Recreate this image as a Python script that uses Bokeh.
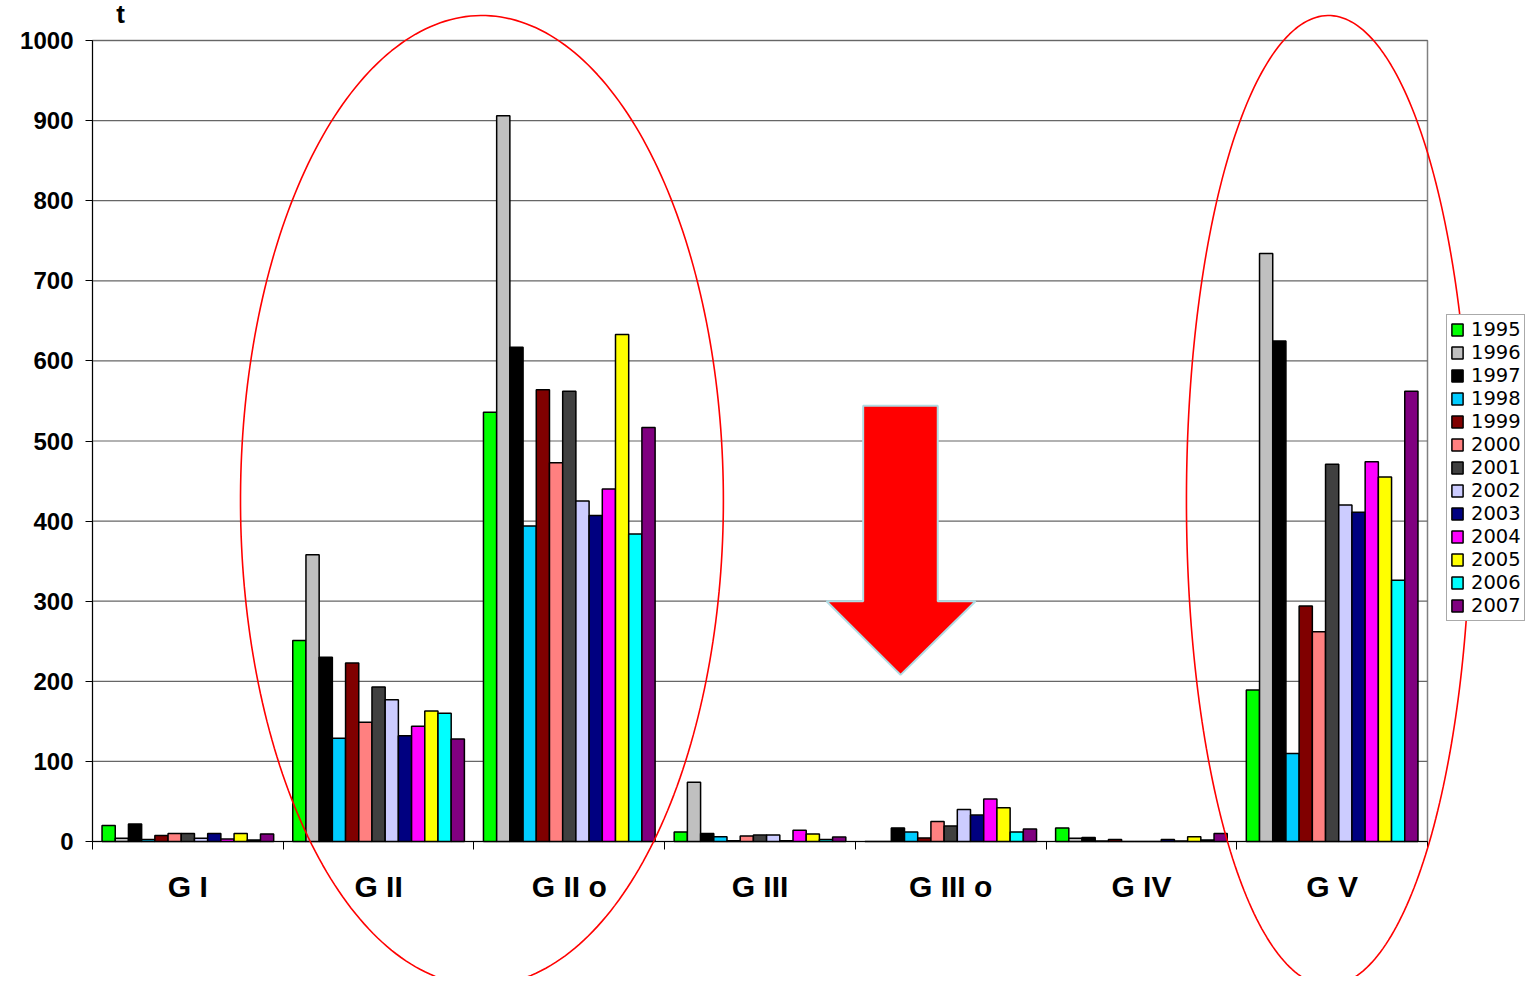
import numpy as np
from bokeh.plotting import figure
from bokeh.models import (ColumnDataSource, Range1d, FixedTicker, Legend,
                          LegendItem, Label, PolyAnnotation)
from bokeh.embed import file_html
from bokeh.resources import INLINE

categories = ["G I", "G II", "G II o", "G III", "G III o", "G IV", "G V"]
years = ["1995", "1996", "1997", "1998", "1999", "2000", "2001",
         "2002", "2003", "2004", "2005", "2006", "2007"]

v1995 = [20, 251, 536, 12, 0, 17, 189]
v1996 = [4, 358, 906, 74, 0, 4, 734]
v1997 = [22, 230, 617, 10, 17, 5, 625]
v1998 = [2.5, 129, 394, 6, 12, 0.5, 110]
v1999 = [7.5, 223, 564, 1, 4.5, 2.5, 294]
v2000 = [10, 149, 473, 7, 25, 0, 262]
v2001 = [10, 193, 562, 8, 19.5, 0, 471]
v2002 = [4, 177, 425, 8, 40, 0, 420]
v2003 = [10, 132, 407, 1, 33, 2.5, 411]
v2004 = [3, 144, 440, 14, 53, 0.5, 474]
v2005 = [10, 163, 633, 9.5, 42, 6, 455]
v2006 = [2, 160, 384, 2.5, 12, 2, 326]
v2007 = [9.5, 128, 517, 5.5, 15.5, 10, 562]

colors = ["#00FF00", "#C0C0C0", "#000000", "#00CCFF", "#800000", "#FF8080",
          "#404040", "#CCCCFF", "#000080", "#FF00FF", "#FFFF00", "#00FFFF",
          "#800080"]

series = [v1995, v1996, v1997, v1998, v1999, v2000, v2001,
          v2002, v2003, v2004, v2005, v2006, v2007]

y_ticks = [0, 100, 200, 300, 400, 500, 600, 700, 800, 900, 1000]
Y_MAX = 1000

FONT = "Liberation Sans"

# canvas / plot-area geometry (pixels)
W, H = 1532, 976
AREA_L, AREA_R, AREA_T, AREA_B = 92, 1427, 40, 841
ncat = len(categories)
px_per_cat = (AREA_R - AREA_L) / ncat
px_per_val = (AREA_B - AREA_T) / Y_MAX

x_range = Range1d(-AREA_L / px_per_cat, (W - AREA_L) / px_per_cat)
y_range = Range1d(-(H - AREA_B) / px_per_val, AREA_B / px_per_val)

p = figure(frame_width=W, frame_height=H, x_range=x_range, y_range=y_range,
           output_backend="svg", toolbar_location=None,
           min_border=0)
p.background_fill_color = "white"
p.border_fill_color = "white"
p.outline_line_color = None
p.xgrid.visible = False
p.ygrid.visible = False

# plot area border and horizontal gridlines
p.quad(left=0, right=ncat, bottom=0, top=Y_MAX, fill_color=None,
       line_color="#808080", line_width=1.5)
grid_src = ColumnDataSource(dict(y=y_ticks[1:]))
p.segment(x0=0, x1=ncat, y0="y", y1="y", source=grid_src,
          line_color="#666666", line_width=1.2)

n = len(years)
group = 0.9
bw = group / n
idx = np.arange(ncat)
items = []
for j, (yr, vals, col) in enumerate(zip(years, series, colors)):
    src = ColumnDataSource(dict(x=idx + (1 - group) / 2 + (j + 0.5) * bw,
                                top=vals))
    r = p.vbar(x="x", top="top", bottom=0, width=bw, source=src,
               fill_color=col, line_color="black", line_width=1.5)
    items.append(LegendItem(label=yr, renderers=[r]))

# y axis (drawn at x = 0 inside the canvas)
p.yaxis.fixed_location = 0
p.yaxis.bounds = (0, Y_MAX)
p.yaxis.ticker = FixedTicker(ticks=y_ticks)
p.yaxis.major_tick_out = 7
p.yaxis.major_tick_in = 0
p.yaxis.minor_tick_line_color = None
p.yaxis.axis_line_color = "black"
p.yaxis.major_tick_line_color = "black"
p.yaxis.major_label_text_font = FONT
p.yaxis.major_label_text_font_style = "bold"
p.yaxis.major_label_text_font_size = "24px"
p.yaxis.major_label_text_color = "black"
p.yaxis.major_label_standoff = 12

# x axis (drawn at y = 0)
centers = [i + 0.5 for i in range(ncat)]
p.xaxis.fixed_location = 0
p.xaxis.bounds = (0, ncat)
p.xaxis.ticker = FixedTicker(ticks=centers, minor_ticks=list(range(ncat + 1)))
p.xaxis.major_label_overrides = {c: lab for c, lab in zip(centers, categories)}
p.xaxis.major_tick_line_color = None
p.xaxis.major_tick_out = 8
p.xaxis.major_tick_in = 0
p.xaxis.minor_tick_out = 8
p.xaxis.minor_tick_in = 0
p.xaxis.minor_tick_line_color = "black"
p.xaxis.axis_line_color = "black"
p.xaxis.major_label_text_font = FONT
p.xaxis.major_label_text_font_style = "bold"
p.xaxis.major_label_text_font_size = "30px"
p.xaxis.major_label_text_color = "black"
p.xaxis.major_label_standoff = 20

# unit label
p.add_layout(Label(x=0.147, y=1033, text="t", text_font=FONT,
                   text_font_style="bold", text_font_size="26px",
                   text_color="black",
                   text_align="center", text_baseline="middle"))

# red down arrow
arrow_x = [4.041, 4.432, 4.432, 4.630, 4.237, 3.849, 4.041]
arrow_y = [544, 544, 300, 300, 208, 300, 300]
p.add_layout(PolyAnnotation(xs=arrow_x, ys=arrow_y, fill_color="red",
                            fill_alpha=1.0, line_color="#B0DCE4",
                            line_alpha=1.0, line_width=2))

# red ellipses
t = np.linspace(0, 2 * np.pi, 300)
for cx, a in [(2.042, 1.266), (6.481, 0.745)]:
    cy, b = 425.7, 605.5
    p.add_layout(PolyAnnotation(xs=list(cx + a * np.cos(t)),
                                ys=list(cy + b * np.sin(t)),
                                fill_color=None, fill_alpha=0,
                                line_color="red", line_alpha=1.0,
                                line_width=1.6))

legend = Legend(items=items, location=(1446, H - 621))
legend.label_text_font = "DejaVu Sans"
legend.label_text_font_size = "19.5px"
legend.label_text_color = "black"
legend.glyph_width = 14
legend.glyph_height = 15
legend.label_height = 20
legend.label_standoff = 7
legend.spacing = 0
legend.padding = 3
legend.margin = 0
legend.border_line_color = "#555555"
legend.border_line_width = 1
legend.background_fill_color = "white"
legend.background_fill_alpha = 1
p.add_layout(legend)

open("out.html", "w").write(file_html(p, INLINE))
